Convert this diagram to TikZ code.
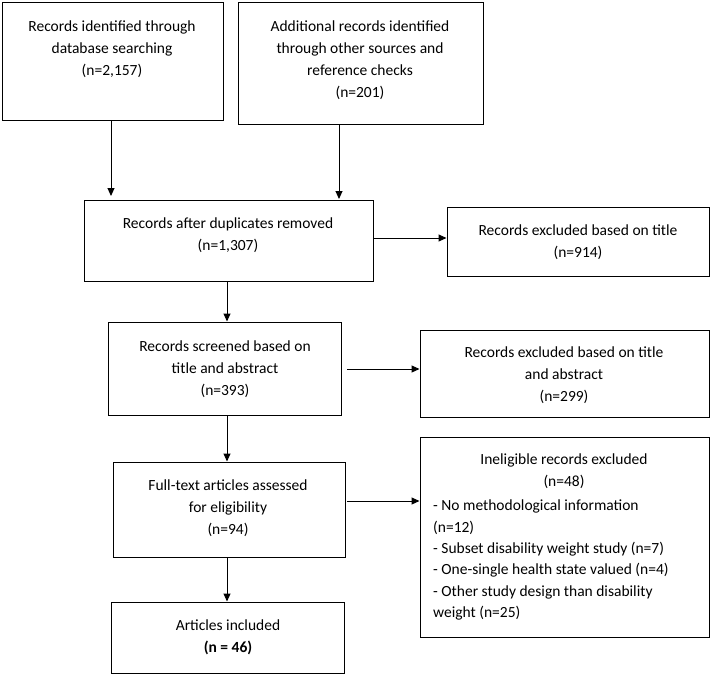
\documentclass[tikz,border=0pt]{standalone}
\usepackage{fontspec}
\setmainfont{Carlito}
\usetikzlibrary{arrows.meta}
\begin{document}
\begin{tikzpicture}[x=1pt,y=-1pt,
  box/.style={draw,line width=1pt,inner sep=0pt},
  txt/.style={font=\fontsize{15.5}{21.7}\selectfont,align=center,anchor=north,inner sep=0pt},
  ltxt/.style={font=\fontsize{15.5}{21.3}\selectfont,align=left,anchor=north west,inner sep=0pt},
  arr/.style={-{Triangle[length=8pt,width=7pt]},line width=1pt}]
\useasboundingbox (0,0) rectangle (712,674);
\node[box,minimum width=221,minimum height=118] (b1) at (112.5,62) {};
\node[box,minimum width=245,minimum height=122] (b2) at (360.5,64) {};
\node[box,minimum width=289,minimum height=81] (b3) at (228.5,240.5) {};
\node[box,minimum width=262,minimum height=69] (b4) at (578,241.5) {};
\node[box,minimum width=233,minimum height=93] (b5) at (224.5,368.5) {};
\node[box,minimum width=289,minimum height=87] (b6) at (564.5,373.5) {};
\node[box,minimum width=232,minimum height=95] (b7) at (229,509.5) {};
\node[box,minimum width=289,minimum height=200] (b8) at (564.5,537) {};
\node[box,minimum width=233,minimum height=71] (b9) at (227.5,637.5) {};
\node[txt] at (112,21) {Records identified through\\database searching\\(n=2,157)};
\node[txt] at (360,21) {Additional records identified\\through other sources and\\reference checks\\(n=201)};
\node[txt] at (228,218) {Records after duplicates removed\\(n=1,307)};
\node[txt] at (578,225) {Records excluded based on title\\(n=914)};
\node[txt] at (225,341) {Records screened based on\\title and abstract\\(n=393)};
\node[txt] at (564,347) {Records excluded based on title\\and abstract\\(n=299)};
\node[txt] at (228,480) {Full-text articles assessed\\for eligibility\\(n=94)};
\node[txt] at (564,454) {Ineligible records excluded\\(n=48)};
\node[ltxt] at (433,500) {- No methodological information\\(n=12)\\- Subset disability weight study (n=7)\\- One-single health state valued (n=4)\\- Other study design than disability\\weight (n=25)};
\node[txt] at (228,620) {Articles included\\\textbf{(n = 46)}};
\draw[arr] (111,121) -- (111,196);
\draw[arr] (339,125) -- (339,199);
\draw[arr] (b3.east|-0,238) -- (b4.west|-0,238);
\draw[arr] (b3.south-|227,0) -- (b5.north-|227,0);
\draw[arr] (347,369) -- (b6.west|-0,369);
\draw[arr] (b5.south-|227,0) -- (b7.north-|227,0);
\draw[arr] (347,501) -- (b8.west|-0,501);
\draw[arr] (b7.south-|227,0) -- (b9.north-|227,0);
\end{tikzpicture}
\end{document}
